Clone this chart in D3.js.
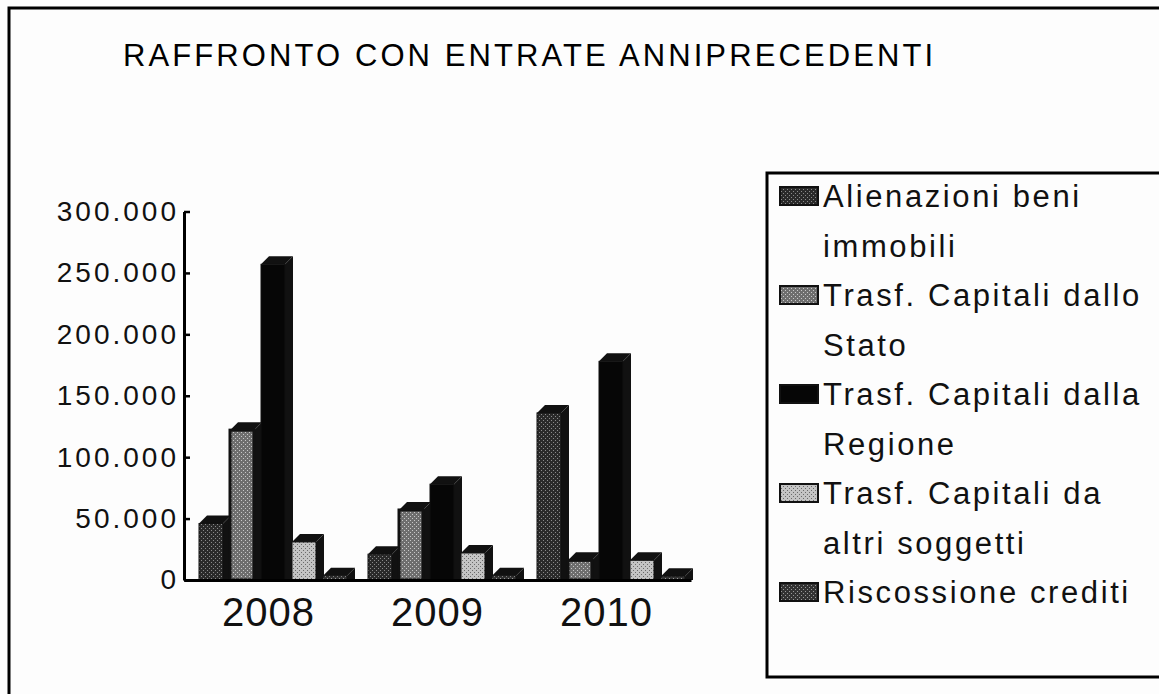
<!DOCTYPE html>
<html>
<head>
<meta charset="utf-8">
<script src="https://cdn.jsdelivr.net/npm/d3@7"></script>
<style>
  body { margin: 0; background: #fff; }
  svg { display: block; font-family: "Liberation Sans", Arial, sans-serif; }
</style>
</head>
<body>
<svg id="chart" width="1159" height="694"></svg>
<script>
// data
var years = ['2008', '2009', '2010'];
var seriesNames = [
  ['Alienazioni beni', 'immobili'],
  ['Trasf. Capitali dallo', 'Stato'],
  ['Trasf. Capitali dalla', 'Regione'],
  ['Trasf. Capitali da', 'altri soggetti'],
  ['Riscossione crediti']
];
var alienazioni = [46000, 21000, 136000];
var dalloStato = [122000, 57000, 16000];
var dallaRegione = [257000, 78000, 178000];
var altriSoggetti = [31000, 22000, 16000];
var riscossione = [3500, 3500, 3000];
var yTicks = [0, 50000, 100000, 150000, 200000, 250000, 300000];

var values = [alienazioni, dalloStato, dallaRegione, altriSoggetti, riscossione];
var faceColors = ['url(#p0)', 'url(#p1)', '#060606', 'url(#p3)', 'url(#p4)'];
var sideColor = '#111';

var svg = d3.select('#chart');

// stipple patterns, to look a bit like the scanned greys
var defs = svg.append('defs');
var pats = [
  {id: 'p0', bg: '#2a2a2a', dot: '#8a8a8a'},
  {id: 'p1', bg: '#6e6e6e', dot: '#c8c8c8'},
  {id: 'p3', bg: '#c4c4c4', dot: '#6a6a6a'},
  {id: 'p4', bg: '#333', dot: '#999'}
];
pats.forEach(function(p){
  var pt = defs.append('pattern').attr('id', p.id)
    .attr('patternUnits', 'userSpaceOnUse').attr('width', 4).attr('height', 4);
  pt.append('rect').attr('width', 4).attr('height', 4).attr('fill', p.bg);
  pt.append('rect').attr('x', 1).attr('y', 0).attr('width', 1).attr('height', 1).attr('fill', p.dot);
  pt.append('rect').attr('x', 3).attr('y', 2).attr('width', 1).attr('height', 1).attr('fill', p.dot);
});

svg.append('rect').attr('width', 1159).attr('height', 694).attr('fill', '#fdfdfd');

// outer frame (runs off the right and bottom)
svg.append('rect').attr('x', 9).attr('y', 8).attr('width', 1170).attr('height', 700)
  .attr('fill', 'none').attr('stroke', '#000').attr('stroke-width', 3);

svg.append('text').attr('x', 123).attr('y', 66)
  .style('font-size', '31px').style('letter-spacing', '3.1px')
  .text('RAFFRONTO CON ENTRATE ANNIPRECEDENTI');

var x = d3.scaleBand().domain(years).range([184, 691]);
var xs = d3.scaleBand().domain(d3.range(5)).range([15, 170]);
var y = d3.scaleLinear().domain([0, 300000]).range([580, 211.5]);

var depth = 8;
var fw = 24;

var groups = svg.selectAll('.grp').data(years).enter().append('g')
  .attr('class', 'grp')
  .attr('transform', function(d){ return 'translate(' + x(d) + ',0)'; });

groups.each(function(yr, gi){
  var g = d3.select(this);
  values.forEach(function(arr, si){
    var bx = xs(si);
    var top = y(arr[gi]);
    var base = y(0);
    var b = g.append('g');
    // top face
    b.append('path')
      .attr('d', 'M' + bx + ',' + top + 'L' + (bx + depth) + ',' + (top - depth) +
        'L' + (bx + fw + depth) + ',' + (top - depth) + 'L' + (bx + fw) + ',' + top + 'Z')
      .attr('fill', sideColor);
    // side face
    b.append('path')
      .attr('d', 'M' + (bx + fw) + ',' + top + 'L' + (bx + fw + depth) + ',' + (top - depth) +
        'L' + (bx + fw + depth) + ',' + base + 'L' + (bx + fw) + ',' + base + 'Z')
      .attr('fill', sideColor);
    // front face
    b.append('rect')
      .attr('x', bx).attr('y', top)
      .attr('width', fw).attr('height', base - top)
      .attr('fill', faceColors[si])
      .attr('stroke', '#111').attr('stroke-width', si === 1 ? 3 : 1);
  });
});

var itFormat = d3.formatLocale({decimal: ',', thousands: '.', grouping: [3], currency: ['', '€']}).format(',');

var yAxis = svg.append('g').attr('transform', 'translate(184,0)')
  .call(d3.axisLeft(y).tickValues(yTicks).tickFormat(itFormat).tickSizeInner(-6).tickSizeOuter(0).tickPadding(5));
yAxis.select('.domain').attr('stroke-width', 3);
yAxis.selectAll('.tick line').attr('stroke-width', 2.5);
yAxis.selectAll('text').style('font-size', '28px').style('letter-spacing', '3px')
  .attr('fill', '#111').attr('font-family', null);

var xAxis = svg.append('g').attr('transform', 'translate(0,580)')
  .call(d3.axisBottom(x).tickSize(0).tickPadding(18));
xAxis.select('.domain').attr('stroke-width', 3);
xAxis.selectAll('text').style('font-size', '40px').style('letter-spacing', '1px')
  .attr('fill', '#111').attr('font-family', null);

// legend box
svg.append('rect').attr('x', 767).attr('y', 173).attr('width', 420).attr('height', 504)
  .attr('fill', 'none').attr('stroke', '#000').attr('stroke-width', 3);

var legRows = [];
seriesNames.forEach(function(lines, i){
  lines.forEach(function(t, j){ legRows.push({s: i, first: j === 0, text: t}); });
});

var leg = svg.selectAll('.leg').data(legRows).enter().append('g')
  .attr('class', 'leg')
  .attr('transform', function(d, i){ return 'translate(0,' + (207 + i * 49.5) + ')'; });

leg.filter(function(d){ return d.first; }).append('rect')
  .attr('x', 780).attr('y', -20).attr('width', 38).attr('height', 18)
  .attr('fill', function(d){ return faceColors[d.s]; })
  .attr('stroke', '#111').attr('stroke-width', 2);

leg.append('text').attr('x', 823)
  .style('font-size', '31px').style('letter-spacing', '2.6px').attr('fill', '#111')
  .text(function(d){ return d.text; });
</script>
</body>
</html>
